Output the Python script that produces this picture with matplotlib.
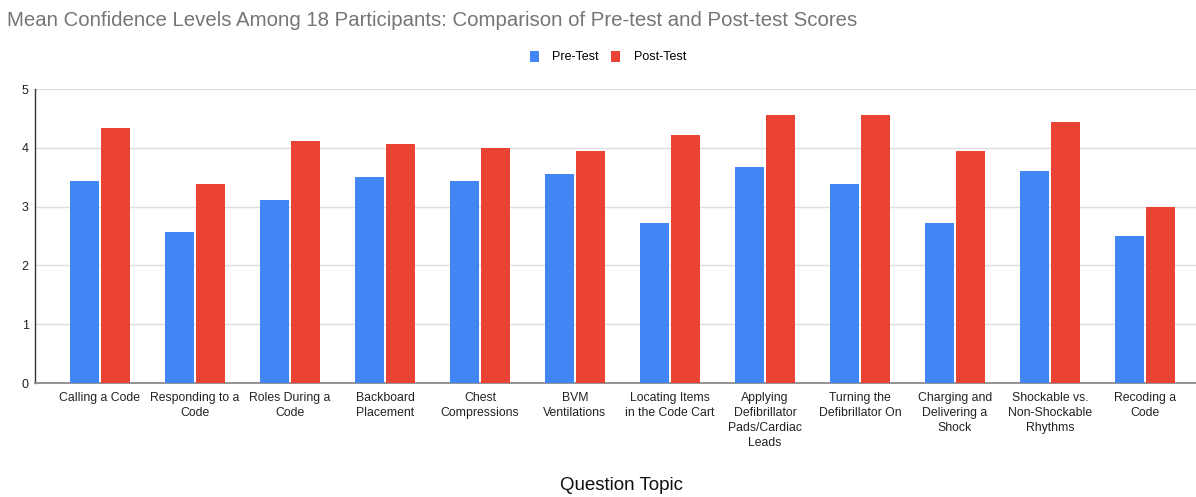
import matplotlib
matplotlib.use("Agg")
import matplotlib.pyplot as plt
import numpy as np

plt.rcParams["font.family"] = ["Liberation Sans", "DejaVu Sans"]

topics = [
    "Calling a Code", "Responding to a\nCode", "Roles During a\nCode",
    "Backboard\nPlacement", "Chest\nCompressions", "BVM\nVentilations",
    "Locating Items\nin the Code Cart", "Applying\nDefibrillator\nPads/Cardiac\nLeads",
    "Turning the\nDefibrillator On", "Charging and\nDelivering a\nShock",
    "Shockable vs.\nNon-Shockable\nRhythms", "Recoding a\nCode",
]
pre_test = [3.44, 2.56, 3.11, 3.50, 3.44, 3.56, 2.72, 3.67, 3.39, 2.72, 3.61, 2.50]
post_test = [4.33, 3.39, 4.11, 4.06, 4.00, 3.94, 4.22, 4.56, 4.56, 3.94, 4.44, 3.00]

BLUE = "#4285F4"
RED = "#EA4335"

fig = plt.figure(figsize=(11.96, 4.97), dpi=100)
ax = fig.add_axes([35 / 1196, 114 / 497, 1 - 35 / 1196, 294 / 497])

x = np.arange(len(topics))
w = 0.302
ax.bar(x - 0.161, pre_test, width=w, color=BLUE, label="Pre-Test", zorder=3)
ax.bar(x + 0.161, post_test, width=w, color=RED, label="Post-Test", zorder=3)

ax.set_xlim(-0.684, 11.537)
ax.set_ylim(0, 5)
ax.set_yticks(range(6))
ax.yaxis.grid(True, color="#dedede", linewidth=1, zorder=0)
ax.set_axisbelow(True)
for s in ["top", "right"]:
    ax.spines[s].set_visible(False)
ax.spines["left"].set_color("#333333")
ax.spines["left"].set_linewidth(1)
ax.spines["bottom"].set_color("#8a8a8a")
ax.spines["bottom"].set_linewidth(1.3)
ax.tick_params(axis="both", length=0, colors="#222222")
ax.tick_params(axis="y", pad=4.5, labelsize=9)
ax.set_xticks(x)
ax.set_xticklabels(topics, linespacing=1.33, fontsize=8.8)
ax.tick_params(axis="x", pad=6.5)

fig.text(622 / 1196, 1 - 486 / 497, "Question Topic", fontsize=13.5, color="#111111",
         ha="center", va="center")

fig.text(7 / 1196, 1 - 21 / 497, "Mean Confidence Levels Among 18 Participants: Comparison of Pre-test and Post-test Scores",
         fontsize=14.7, color="#757575", va="center", ha="left")

leg = fig.legend(loc="center", bbox_to_anchor=(608 / 1196, 1 - 57 / 497), ncol=2, frameon=False,
                 fontsize=9, handlelength=0.7, handleheight=1.0, columnspacing=1.0, handletextpad=1.1)

fig.savefig("out.png", dpi=100)
